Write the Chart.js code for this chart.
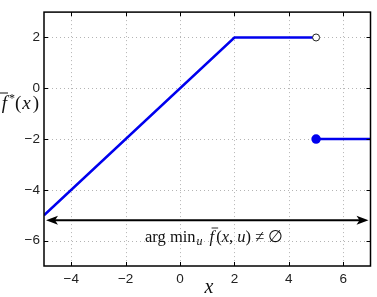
<!DOCTYPE html>
<html>
<head>
<meta charset="utf-8">
<script src="https://cdn.jsdelivr.net/npm/chart.js@4/dist/chart.umd.min.js"></script>
<style>
  html, body { margin: 0; padding: 0; background: #fff; }
  #wrap { width: 377px; height: 297px; }
</style>
</head>
<body>
<div id="wrap"><canvas id="chart"></canvas></div>
<script>
// ---- data ----
const xTickValues = [-4, -2, 0, 2, 4, 6];
const yTickValues = [-6, -4, -2, 0, 2];
const xRange = [-5, 7];
const yRange = [-7, 3];

// left branch: ramp then flat
const leftX = [-5, 2, 5];
const leftY = [-5, 2, 2];
// right branch after the jump
const rightX = [5, 7];
const rightY = [-2, -2];
// open circle at the jump
const openX = [5];
const openY = [2];

// double arrow for the domain
const arrowX = [-5, 7];
const arrowY = -5.2;

const blue = "#0000ee";

function toPoints(xs, ys) {
  return xs.map((x, i) => ({ x: x, y: ys[i] }));
}

function fmt(v) {
  return v < 0 ? "\u2212" + Math.abs(v) : String(v);
}

// grid, frame, arrow and the text labels
const decor = {
  id: "decor",
  beforeDatasetsDraw(chart) {
    const { ctx, chartArea: a, scales: { x, y } } = chart;
    ctx.save();
    ctx.strokeStyle = "#b4b4b4";
    ctx.lineWidth = 1;
    ctx.setLineDash([1, 3]);
    xTickValues.forEach(v => {
      const px = Math.round(x.getPixelForValue(v)) + 0.5;
      ctx.beginPath(); ctx.moveTo(px, a.top); ctx.lineTo(px, a.bottom); ctx.stroke();
    });
    yTickValues.forEach(v => {
      const py = Math.round(y.getPixelForValue(v)) + 0.5;
      ctx.beginPath(); ctx.moveTo(a.left, py); ctx.lineTo(a.right, py); ctx.stroke();
    });
    ctx.restore();
  },
  afterDatasetsDraw(chart) {
    const { ctx, chartArea: a, scales: { x, y } } = chart;
    ctx.save();

    // frame
    ctx.strokeStyle = "#000";
    ctx.lineWidth = 1.5;
    ctx.strokeRect(a.left, a.top, a.right - a.left, a.bottom - a.top);

    // inward ticks
    ctx.lineWidth = 1;
    const t = 4;
    xTickValues.forEach(v => {
      const px = Math.round(x.getPixelForValue(v)) + 0.5;
      ctx.beginPath();
      ctx.moveTo(px, a.bottom); ctx.lineTo(px, a.bottom - t);
      ctx.moveTo(px, a.top); ctx.lineTo(px, a.top + t);
      ctx.stroke();
    });
    yTickValues.forEach(v => {
      const py = Math.round(y.getPixelForValue(v)) + 0.5;
      ctx.beginPath();
      ctx.moveTo(a.left, py); ctx.lineTo(a.left + t, py);
      ctx.moveTo(a.right, py); ctx.lineTo(a.right - t, py);
      ctx.stroke();
    });

    // double arrow
    const ay = y.getPixelForValue(arrowY);
    const ax0 = x.getPixelForValue(arrowX[0]) + 2;
    const ax1 = x.getPixelForValue(arrowX[1]) - 2;
    ctx.lineWidth = 2;
    ctx.beginPath(); ctx.moveTo(ax0 + 6, ay); ctx.lineTo(ax1 - 6, ay); ctx.stroke();
    ctx.fillStyle = "#000";
    ctx.beginPath();
    ctx.moveTo(ax0, ay); ctx.lineTo(ax0 + 12, ay - 4.5); ctx.lineTo(ax0 + 9, ay); ctx.lineTo(ax0 + 12, ay + 4.5);
    ctx.closePath(); ctx.fill();
    ctx.beginPath();
    ctx.moveTo(ax1, ay); ctx.lineTo(ax1 - 12, ay - 4.5); ctx.lineTo(ax1 - 9, ay); ctx.lineTo(ax1 - 12, ay + 4.5);
    ctx.closePath(); ctx.fill();

    // annotation: arg min_u f̄(x,u) ≠ ∅
    const serif = "'Liberation Serif', 'DejaVu Serif', serif";
    ctx.fillStyle = "#111";
    ctx.strokeStyle = "#111";
    ctx.textBaseline = "alphabetic";
    ctx.textAlign = "left";
    let cx = 145;
    const base = 242;
    ctx.font = "16.5px " + serif;
    ctx.fillText("arg min", cx, base);
    cx += ctx.measureText("arg min").width;
    ctx.font = "italic 12px " + serif;
    ctx.fillText("u", cx + 1, base + 3);
    cx += ctx.measureText("u").width + 8;
    ctx.font = "italic 16.5px " + serif;
    const fw = ctx.measureText("f").width;
    ctx.fillText("f", cx, base);
    ctx.lineWidth = 0.9;
    ctx.beginPath(); ctx.moveTo(cx + 2, base - 14); ctx.lineTo(cx + fw + 4, base - 14); ctx.stroke();
    cx += fw + 2;
    ctx.font = "16.5px " + serif;
    ctx.fillText("(", cx, base); cx += ctx.measureText("(").width;
    ctx.font = "italic 16.5px " + serif;
    ctx.fillText("x", cx, base); cx += ctx.measureText("x").width;
    ctx.font = "16.5px " + serif;
    ctx.fillText(", ", cx, base); cx += ctx.measureText(", ").width;
    ctx.font = "italic 16.5px " + serif;
    ctx.fillText("u", cx, base); cx += ctx.measureText("u").width;
    ctx.font = "16.5px " + serif;
    ctx.fillText(")", cx, base); cx += ctx.measureText(")").width + 4;
    ctx.fillText("\u2260", cx, base); cx += ctx.measureText("\u2260").width + 4;
    ctx.fillText("\u2205", cx, base);

    // y label, partly cut off at the left edge
    const yl = 109;
    ctx.font = "italic 19px " + serif;
    const jw = ctx.measureText("f").width;
    let lx = 7 - jw;
    ctx.fillText("f", lx, yl);
    ctx.lineWidth = 1;
    ctx.beginPath(); ctx.moveTo(0, yl - 16); ctx.lineTo(8, yl - 16); ctx.stroke();
    lx = 9;
    ctx.font = "12px " + serif;
    ctx.fillText("*", lx, yl - 7);
    lx = 15;
    ctx.font = "19px " + serif;
    ctx.fillText("(", lx, yl); lx += ctx.measureText("(").width + 1;
    ctx.font = "italic 19px " + serif;
    ctx.fillText("x", lx, yl); lx += ctx.measureText("x").width + 2;
    ctx.font = "19px " + serif;
    ctx.fillText(")", lx, yl);

    // x label
    ctx.font = "italic 20px " + serif;
    ctx.textAlign = "center";
    ctx.fillText("x", 209, 293);

    ctx.restore();
  }
};

const ctx = document.getElementById("chart").getContext("2d");

new Chart(ctx, {
  type: "scatter",
  data: {
    datasets: [
      {
        data: toPoints(openX, openY),
        showLine: false,
        pointRadius: 3.5,
        pointBackgroundColor: "#fff",
        pointBorderColor: "#222",
        pointBorderWidth: 1,
        order: 0
      },
      {
        data: toPoints(leftX, leftY),
        showLine: true,
        borderColor: blue,
        borderWidth: 2.5,
        pointRadius: 0,
        order: 1
      },
      {
        data: toPoints(rightX, rightY),
        showLine: true,
        borderColor: blue,
        borderWidth: 2.5,
        pointRadius: [3.5, 0],
        pointBackgroundColor: blue,
        pointBorderColor: blue,
        order: 1
      }
    ]
  },
  options: {
    responsive: true,
    maintainAspectRatio: false,
    animation: false,
    layout: { padding: { top: 7, right: 4, left: 0, bottom: 0 } },
    plugins: {
      legend: { display: false },
      tooltip: { enabled: false }
    },
    scales: {
      x: {
        type: "linear",
        min: xRange[0],
        max: xRange[1],
        afterBuildTicks: axis => { axis.ticks = xTickValues.map(v => ({ value: v })); },
        afterFit: axis => { axis.height = 31; },
        grid: { display: false, drawTicks: false, tickLength: 0 },
        border: { display: false },
        ticks: {
          callback: fmt,
          padding: 5,
          color: "#222",
          font: { family: "'Liberation Sans', Arial, sans-serif", size: 13.5 }
        }
      },
      y: {
        type: "linear",
        min: yRange[0],
        max: yRange[1],
        afterBuildTicks: axis => { axis.ticks = yTickValues.map(v => ({ value: v })); },
        afterFit: axis => { axis.width = 44; },
        grid: { display: false, drawTicks: false, tickLength: 0 },
        border: { display: false },
        ticks: {
          callback: fmt,
          padding: 4,
          color: "#222",
          font: { family: "'Liberation Sans', Arial, sans-serif", size: 13.5 }
        }
      }
    }
  },
  plugins: [decor]
});
</script>
</body>
</html>
